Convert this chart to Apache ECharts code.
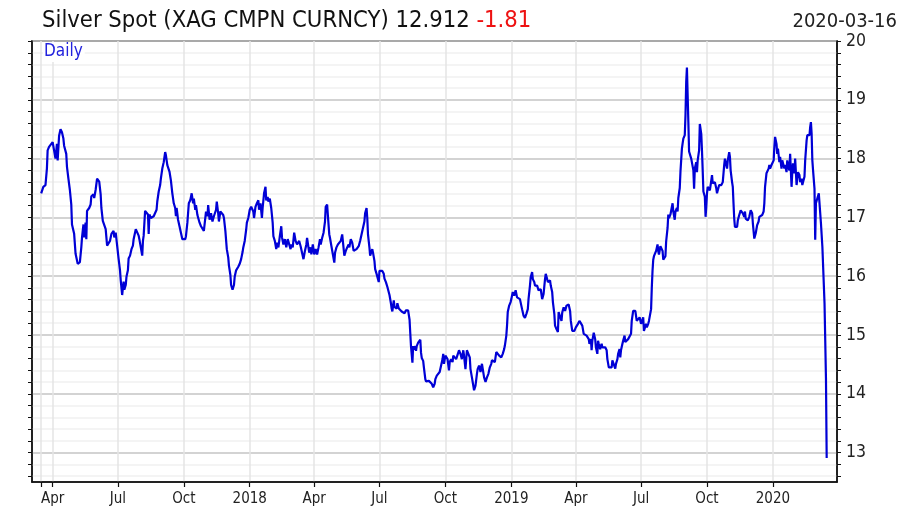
<!DOCTYPE html>
<html><head><meta charset="utf-8">
<script src="https://cdn.jsdelivr.net/npm/echarts@6/dist/echarts.min.js"></script>
<style>html,body{margin:0;padding:0;background:#fff}#c{width:907px;height:517px}</style>
</head><body><div id="c"></div>
<script>
// ---- data ----
const startDate = '2017-03-16';
const endDate = '2020-03-16';
// trading day offsets from startDate
const dayOffsets = [
0,3,6,8,9,11,13,16,18,20,22,23,25,27,29,31,32,35,36,38,40,42,43,46,48,51,54,56,57,59,
60,62,63,64,67,69,70,73,74,76,78,80,81,83,84,86,88,90,92,94,96,98,101,102,104,106,108,110,111,113,
115,116,118,119,121,122,124,126,128,129,131,132,134,136,137,139,141,142,143,145,147,149,150,151,153,155,157,159,161,162,
164,166,167,169,171,173,174,176,179,
181,183,185,187,188,189,191,193,195,197,199,201,202,204,206,208,210,212,213,215,216,218,220,221,223,225,227,228,230,232,
233,235,237,239,241,242,244,245,247,248,250,252,254,255,257,259,261,262,264,265,267,269,270,272,274,275,277,279,281,282,
284,286,287,289,291,293,295,296,297,299,301,303,304,306,308,309,311,313,314,316,317,319,321,323,324,326,328,329,331,333,
335,336,338,340,342,344,346,348,349,351,353,355,357,359,
360,362,364,366,368,370,371,373,374,376,377,379,381,383,385,387,389,390,392,394,396,397,399,400,402,403,405,407,409,410,
412,414,416,418,420,422,423,425,427,429,430,432,434,436,438,440,442,443,445,447,449,451,452,454,455,456,458,459,461,462,
463,465,466,468,469,471,472,474,476,478,479,481,482,483,485,486,488,489,490,492,493,495,496,497,499,501,503,505,507,509,
510,512,514,515,516,518,519,520,522,523,524,526,527,529,530,531,533,534,536,537,539,541,
543,545,547,549,550,552,554,556,558,560,561,562,564,565,567,569,570,572,574,575,577,579,581,583,585,587,589,590,592,594,
596,598,599,601,602,604,606,608,609,611,613,615,616,618,620,622,624,626,628,629,631,633,635,637,639,641,642,644,646,647,
649,650,651,653,655,656,658,660,662,664,666,668,669,671,673,675,677,679,680,682,683,685,686,688,689,691,692,694,695,697,
699,701,703,704,706,707,709,710,711,713,714,716,717,719,721,722,
724,726,727,729,731,733,735,736,738,739,741,742,744,746,748,749,751,753,755,757,759,761,762,764,765,767,768,769,771,773,
774,776,777,778,780,782,783,785,787,789,790,792,794,796,797,799,801,802,804,805,807,808,809,811,812,814,815,817,819,821,
823,824,826,828,829,831,833,835,837,838,840,841,842,844,845,847,848,849,851,852,853,854,855,857,858,860,861,862,864,865,
867,868,869,871,872,874,875,876,878,880,881,882,884,885,887,888,889,891,892,894,895,896,898,899,900,901,902,903,904,
905,907,908,910,911,912,914,915,916,918,919,920,921,922,923,924,926,927,928,929,930,932,933,935,936,937,939,940,942,943,
944,946,948,949,951,953,954,955,957,958,960,961,962,964,965,966,967,968,969,971,972,974,975,976,978,979,981,982,983,985,
986,988,989,990,992,993,995,996,997,999,1001,1002,1004,1006,1008,1009,1010,1012,1013,1015,1016,1017,1019,1020,1022,1023,1024,1026,1027,1028,
1030,1031,1033,1034,1035,1037,1038,1040,1041,1042,1044,1045,1047,1048,1049,1051,1052,1054,1055,1056,1058,1059,1061,1062,1063,1065,1066,1068,1069,1070,
1072,1073,1074,1075,1076,1077,1079,1080,1081,1083,1085,1087,1088,1090,1092,1093,1094,1095,1096
];
const prices = [
17.41,17.52,17.55,17.83,18.14,18.20,18.23,18.28,18.29,18.00,18.25,17.97,18.39,18.50,18.45,18.34,18.22,18.08,17.86,17.66,
17.47,17.22,16.88,16.72,16.38,16.21,16.24,16.49,16.66,16.88,16.66,16.91,16.63,17.11,17.16,17.22,17.36,17.39,17.33,17.47,
17.66,17.69,17.61,17.39,17.16,16.94,16.91,16.80,16.52,16.52,16.60,16.72,16.77,16.66,16.74,16.52,16.30,16.10,15.93,15.68,
15.91,15.77,15.85,15.99,16.10,16.30,16.35,16.46,16.52,16.63,16.66,16.80,16.80,16.69,16.63,16.66,16.35,16.60,16.69,17.11,
17.11,17.05,16.72,17.05,16.99,17.02,17.02,17.05,17.13,17.27,17.44,17.55,17.66,17.83,17.94,18.11,18.06,17.89,17.78,
17.63,17.41,17.24,17.16,17.02,17.16,16.96,16.85,16.74,16.63,16.60,16.63,16.68,16.91,17.24,17.29,17.41,17.24,17.32,17.13,
17.21,17.04,17.02,16.91,16.85,16.82,16.77,16.88,17.10,17.02,17.21,16.96,17.07,16.93,17.02,16.99,17.13,17.27,17.07,16.93,
17.10,17.07,17.04,16.99,16.77,16.46,16.32,16.18,16.02,15.85,15.77,15.85,15.99,16.10,16.13,16.16,16.21,16.29,16.41,16.49,
16.60,16.79,16.91,16.99,17.13,17.18,17.21,17.10,16.99,17.18,17.24,17.29,17.13,17.24,16.99,17.16,17.41,17.52,17.29,17.35,
17.27,17.32,17.16,16.91,16.68,16.60,16.46,16.57,16.49,16.68,16.85,16.66,16.54,16.63,16.49,16.63,16.66,16.46,16.54,16.49,
16.74,16.60,16.54,16.57,
16.60,16.51,16.40,16.29,16.43,16.54,16.65,16.63,16.40,16.49,16.37,16.54,16.37,16.46,16.37,16.49,16.63,16.54,16.65,16.74,
16.93,17.18,17.22,17.04,16.71,16.65,16.51,16.49,16.23,16.40,16.49,16.54,16.51,16.60,16.71,16.68,16.35,16.43,16.49,16.54,
16.49,16.63,16.57,16.43,16.43,16.46,16.43,16.51,16.60,16.71,16.82,16.93,17.07,17.16,16.99,16.71,16.49,16.35,16.32,16.46,
16.40,16.26,16.12,16.04,16.07,15.90,16.09,16.07,16.09,16.04,15.96,15.90,15.90,15.82,15.79,15.68,15.54,15.45,15.40,15.59,
15.48,15.51,15.45,15.54,15.45,15.48,15.40,15.42,15.37,15.42,15.40,15.42,15.26,15.03,14.81,14.53,14.81,14.75,14.81,14.73,
14.81,14.87,14.89,14.92,14.70,14.61,14.56,14.45,14.25,14.21,14.20,14.22,
14.23,14.17,14.11,14.17,14.25,14.31,14.31,14.37,14.48,14.59,14.68,14.51,14.65,14.62,14.59,14.40,14.54,14.59,14.54,14.65,
14.68,14.59,14.62,14.74,14.68,14.59,14.74,14.65,14.42,14.74,14.76,14.62,14.42,14.28,14.25,14.06,14.14,14.34,14.42,14.48,
14.37,14.51,14.48,14.28,14.20,14.28,14.34,14.45,14.51,14.57,14.59,14.54,14.71,14.74,14.65,14.68,14.62,14.68,14.76,14.82,
14.99,15.16,15.39,15.50,15.56,15.61,15.73,15.67,15.76,15.64,15.67,15.61,15.59,15.44,15.33,15.29,15.36,15.44,15.61,15.84,
15.98,16.07,15.95,15.90,15.84,15.81,15.84,15.76,15.73,15.78,15.61,15.70,15.95,16.04,15.95,15.90,15.90,15.93,15.84,15.73,
15.56,15.36,15.16,15.10,15.05,15.39,
15.41,15.24,15.38,15.47,15.41,15.50,15.47,15.52,15.41,15.24,15.07,15.04,15.07,15.13,15.16,15.19,15.24,15.21,15.16,15.02,
14.99,14.99,14.99,14.93,14.85,14.93,14.74,14.90,15.04,14.93,14.79,14.68,14.90,14.85,14.76,14.85,14.79,14.79,14.79,14.74,
14.59,14.45,14.48,14.45,14.57,14.54,14.43,14.51,14.59,14.68,14.76,14.62,14.74,14.85,14.90,14.99,14.88,14.90,14.93,14.96,
15.02,15.24,15.41,15.38,15.41,15.24,15.27,15.30,15.19,15.21,15.30,15.07,15.04,15.19,15.13,15.19,15.24,15.27,15.44,15.81,
16.09,16.28,16.34,16.37,16.43,16.54,16.43,16.37,16.51,16.54,16.43,16.28,16.26,16.34,16.59,16.82,17.05,16.99,17.05,17.07,
17.24,17.10,16.96,17.10,17.16,17.10,17.33,17.50,17.78,18.17,18.26,18.34,18.40,18.74,19.30,19.55,19.58,18.62,18.12,
18.11,18.00,18.03,17.80,17.49,17.83,17.94,17.77,17.97,18.14,18.59,18.62,18.42,18.14,17.80,17.44,17.35,17.01,17.18,17.41,
17.52,17.55,17.46,17.63,17.72,17.58,17.55,17.60,17.49,17.41,17.46,17.55,17.52,17.55,17.60,17.89,18.00,17.94,17.83,17.97,
18.11,18.03,17.80,17.60,17.52,17.24,16.98,16.84,16.81,16.84,16.95,17.04,17.07,17.12,17.15,17.07,17.01,17.10,16.98,17.01,
16.95,17.01,16.98,17.12,17.07,16.90,16.64,16.62,16.73,16.87,16.93,17.01,17.01,17.04,17.10,17.24,17.52,17.75,17.77,17.83,
17.89,17.83,17.89,17.92,17.97,18.20,18.37,18.25,18.08,18.17,17.94,18.03,17.83,17.97,18.00,17.83,17.89,17.77,17.97,17.89,
17.80,18.08,17.52,17.77,17.92,17.75,18.00,17.55,17.66,17.77,17.72,17.60,17.66,17.55,17.60,17.69,17.97,18.31,18.40,18.42,
18.40,18.54,18.62,18.42,17.97,17.80,17.49,16.62,17.24,17.24,17.41,17.38,16.90,16.50,16.50,15.54,15.54,14.27,12.91
];
const quarterStarts = ['2017-04-01','2017-07-01','2017-10-01','2018-01-01','2018-04-01','2018-07-01',
  '2018-10-01','2019-01-01','2019-04-01','2019-07-01','2019-10-01','2020-01-01'];
const quarterLabels = ['Apr','Jul','Oct','2018','Apr','Jul','Oct','2019','Apr','Jul','Oct','2020'];
const yTickLabels = [13,14,15,16,17,18,19,20];
const titleMain = 'Silver Spot (XAG CMPN CURNCY) 12.912 ';
const titleChange = '-1.81';
const titleDate = '2020-03-16';
const seriesLabel = 'Daily';

// ---- build ----
const DAY = 86400000;
function ts(s){const p=s.split('-').map(Number);return Date.UTC(p[0],p[1]-1,p[2]);}
const t0 = ts(startDate);
const seriesData = dayOffsets.map((d,i)=>[t0 + d*DAY, prices[i]]);
const qTs = quarterStarts.map(ts);
const labelByTs = {}; qTs.forEach((t,i)=>{labelByTs[t]=quarterLabels[i];});
const yMin = 12.5, yMax = 20;
const minorVals = []; for (let k=0;k<=37;k++){ minorVals.push(Math.round((12.6+0.2*k)*10)/10); }

const FONT = 'DejaVu Sans Condensed, DejaVu Sans, sans-serif';
const chart = echarts.init(document.getElementById('c'), null, {renderer:'canvas'});
const minorC = '#f0f0f0', majorC = '#c4c4c4';
chart.setOption({
  animation: false,
  backgroundColor: '#ffffff',
  title: [
    { text: '{a|' + titleMain + '}{b|' + titleChange + '}', left: 37, top: 4,
      textStyle: { fontWeight: 'normal', rich: {
        a: { fontFamily: FONT, fontSize: 23.6, fontWeight: 'normal', color: '#111' },
        b: { fontFamily: FONT, fontSize: 23.6, fontWeight: 'normal', color: '#ee1111' } } } },
    { text: titleDate, right: 5, top: 7,
      textStyle: { fontFamily: FONT, fontSize: 20, fontWeight: 'normal', color: '#222' } }
  ],
  grid: { left: 32, right: 70, top: 41, bottom: 35, show: true, borderColor: '#222', borderWidth: 1.5,
          backgroundColor: '#fff', containLabel: false, outerBoundsMode: 'none' },
  xAxis: {
    type: 'value', min: t0 - 12.8*DAY, max: ts(endDate) + 14.4*DAY, scale: true,
    axisLine: { show: true, lineStyle: { color: '#111', width: 1.5 } },
    axisTick: { show: true, customValues: [t0].concat(qTs), length: 5, inside: false, lineStyle: { color: '#111', width: 1.2 } },
    axisLabel: { customValues: qTs, formatter: (v)=> labelByTs[v] || '', fontFamily: FONT, fontSize: 15, color: '#222', margin: 10,
                 showMinLabel: true, showMaxLabel: true, hideOverlap: false },
    splitLine: { show: true, lineStyle: { color: '#e4e4e4', width: 1.5 } }
  },
  yAxis: [
    { type: 'value', position: 'right', min: yMin, max: yMax,
      axisLine: { show: true, lineStyle: { color: '#111', width: 1.5 } },
      axisTick: { show: true, customValues: minorVals, length: 4, inside: false, lineStyle: { color: '#111', width: 1 } },
      axisLabel: { customValues: yTickLabels, fontFamily: FONT, fontSize: 17.5, color: '#222', margin: 9 },
      splitLine: { show: true, lineStyle: { color: [minorC, minorC, majorC, minorC, minorC], width: 1.5 } }
    },
    { type: 'value', position: 'left', min: yMin, max: yMax,
      axisLine: { show: true, lineStyle: { color: '#111', width: 1.5 } },
      axisTick: { show: true, customValues: minorVals, length: 4, inside: false, lineStyle: { color: '#111', width: 1 } },
      axisLabel: { show: false },
      splitLine: { show: false }
    }
  ],
  graphic: [
    { type: 'text', left: 43, top: 42, z: 100,
      style: { text: seriesLabel, fontFamily: FONT, fontSize: 17, fill: '#2222dd',
               backgroundColor: '#fff', padding: [1, 2, 2, 1] } }
  ],
  series: [{
    type: 'line', data: seriesData, yAxisIndex: 0, showSymbol: false, symbol: 'none',
    lineStyle: { color: '#0000d6', width: 2.2 }, itemStyle: { color: '#0000d6' }, silent: true
  }]
});
</script></body></html>
